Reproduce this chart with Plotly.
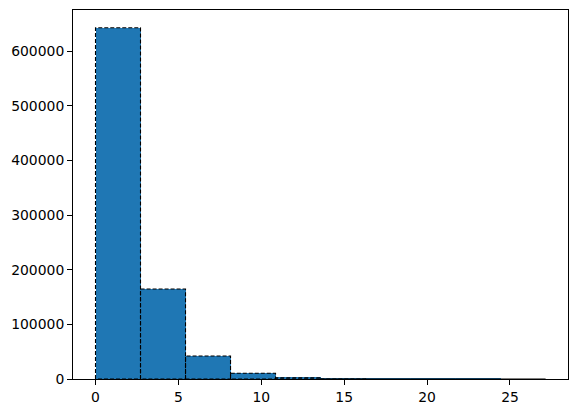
import numpy as np
import plotly.graph_objects as go

# histogram: 10 equal bins between 0 and ~27.15
bin_edges = np.linspace(0, 27.15, 11)
counts = [642500, 164500, 42000, 10500, 2200, 450, 120, 40, 15, 6]

left = bin_edges[:-1]
right = bin_edges[1:]
centers = (left + right) / 2
widths = right - left

fig = go.Figure()
fig.add_trace(go.Bar(
    x=centers, y=counts, width=widths,
    marker=dict(color="#1f77b4", line=dict(width=0)),
    showlegend=False,
))

# dashed black edges around every bar
for l, r, c in zip(left, right, counts):
    fig.add_trace(go.Scatter(
        x=[l, l, r, r, l], y=[0, c, c, 0, 0],
        mode="lines", line=dict(color="black", width=1.1, dash="4px,2px"),
        showlegend=False, hoverinfo="skip",
    ))

# page body has an 8px margin, so the margins are shifted to compensate
fig.update_layout(
    width=578, height=413,
    margin=dict(l=65, r=18, t=2, b=42),
    plot_bgcolor="white", paper_bgcolor="white",
    font=dict(family="DejaVu Sans", size=13.9, color="black"),
    bargap=0,
)
fig.update_xaxes(
    range=[-1.357, 28.5], tickvals=[0, 5, 10, 15, 20, 25],
    showgrid=False, zeroline=False, showline=True, linecolor="black", linewidth=1,
    mirror=True, ticks="outside", ticklen=5, tickcolor="black",
)
fig.update_yaxes(
    range=[0, 675000], tickvals=[0, 100000, 200000, 300000, 400000, 500000, 600000],
    tickformat="d",
    showgrid=False, zeroline=False, showline=True, linecolor="black", linewidth=1,
    mirror=True, ticks="outside", ticklen=5, tickcolor="black",
)

fig.write_html("out.html")
